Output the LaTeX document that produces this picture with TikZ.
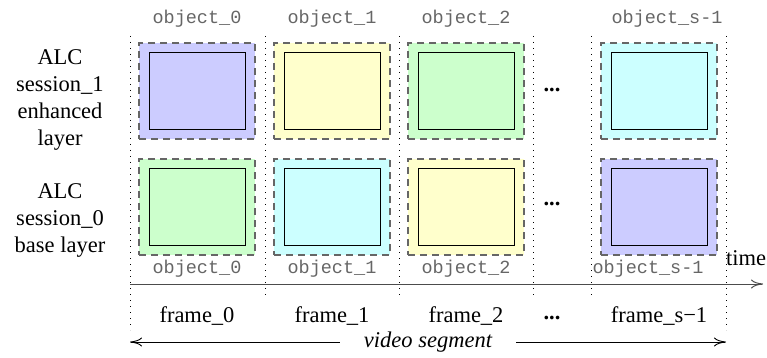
\documentclass[tikz,border=0pt]{standalone}
\usepackage{fontspec}
\setmainfont{Liberation Serif}
\setmonofont{Liberation Mono}
\usetikzlibrary{arrows.meta}
\definecolor{blu}{HTML}{CCCCFF}
\definecolor{yel}{HTML}{FFFFCC}
\definecolor{grn}{HTML}{CCFFCC}
\definecolor{cya}{HTML}{CCFFFF}
\tikzset{
	obj/.style={draw=black!60,dash pattern=on 7pt off 5pt,line width=1.2pt,minimum width=116pt,minimum height=96pt,inner sep=0pt},
	pic/.style={draw,line width=0.8pt,minimum width=96pt,minimum height=77pt,inner sep=0pt},
	lbl/.style={font=\ttfamily\fontsize{18.5}{20}\selectfont,text=black!60},
	sep/.style={dash pattern=on 1.2pt off 4.8pt,line width=1pt},
	tip/.style={-{To[length=12pt,width=9pt]}}
}
\begin{document}
\begin{tikzpicture}[x=1pt,y=-1pt,font=\fontsize{22.5}{27}\selectfont]
	\useasboundingbox (0,0) rectangle (767,358);
	\foreach \x/\y in {130/330, 265/298, 399/298, 533/298, 591/298, 726/330}
		\draw[sep] (\x,36) -- (\x,\y);
	\foreach \i/\x/\a/\b in {0/197/blu/grn, 1/332/yel/cya, 2/466/grn/yel}{
		\node[lbl] at (\x,19) (ot\i) {object\_\i};
		\node[obj,fill=\a] at (\x,91) (t\i) {};
		\node[pic] at (\x,91) (ti\i) {};
		\node[obj,fill=\b] at (\x,207) (b\i) {};
		\node[pic] at (\x,207) (bi\i) {};
		\node[lbl] at (\x,269) (ob\i) {object\_\i};
		\node at (\x,316) (f\i) {frame\_\i};
	}
	\node[lbl] at (667,19) (ots) {object\_s-1};
	\node[obj,fill=cya] at (659,91) (ts) {};
	\node[pic] at (659,91) (tis) {};
	\node[obj,fill=blu] at (659,207) (bs) {};
	\node[pic] at (659,207) (bis) {};
	\node[lbl] at (648,269) (obs) {object\_s-1};
	\node at (659,316) (fs) {frame\_s−1};
	\foreach \y/\n in {90/t, 204/b, 318/f}
		\node at (552,\y) (d\n) {\textbf{...}};
	\node[align=center] at (60,100) (enh) {ALC\\session\_1\\enhanced\\layer};
	\node[align=center] at (60,220) (base) {ALC\\session\_0\\base layer};
	\coordinate (tl) at (130,284);
	\coordinate (tr) at (763,284);
	\draw[tip,black!70,line width=1pt] (tl) -- (tr);
	\node at (746,258) (time) {time};
	\node[inner xsep=24pt] at (428,342) (vs) {\itshape video segment};
	\coordinate (vl) at (130,342);
	\coordinate (vr) at (726,342);
	\draw[tip,line width=0.9pt] (vs) -- (vl);
	\draw[tip,line width=0.9pt] (vs) -- (vr);
\end{tikzpicture}
\end{document}
